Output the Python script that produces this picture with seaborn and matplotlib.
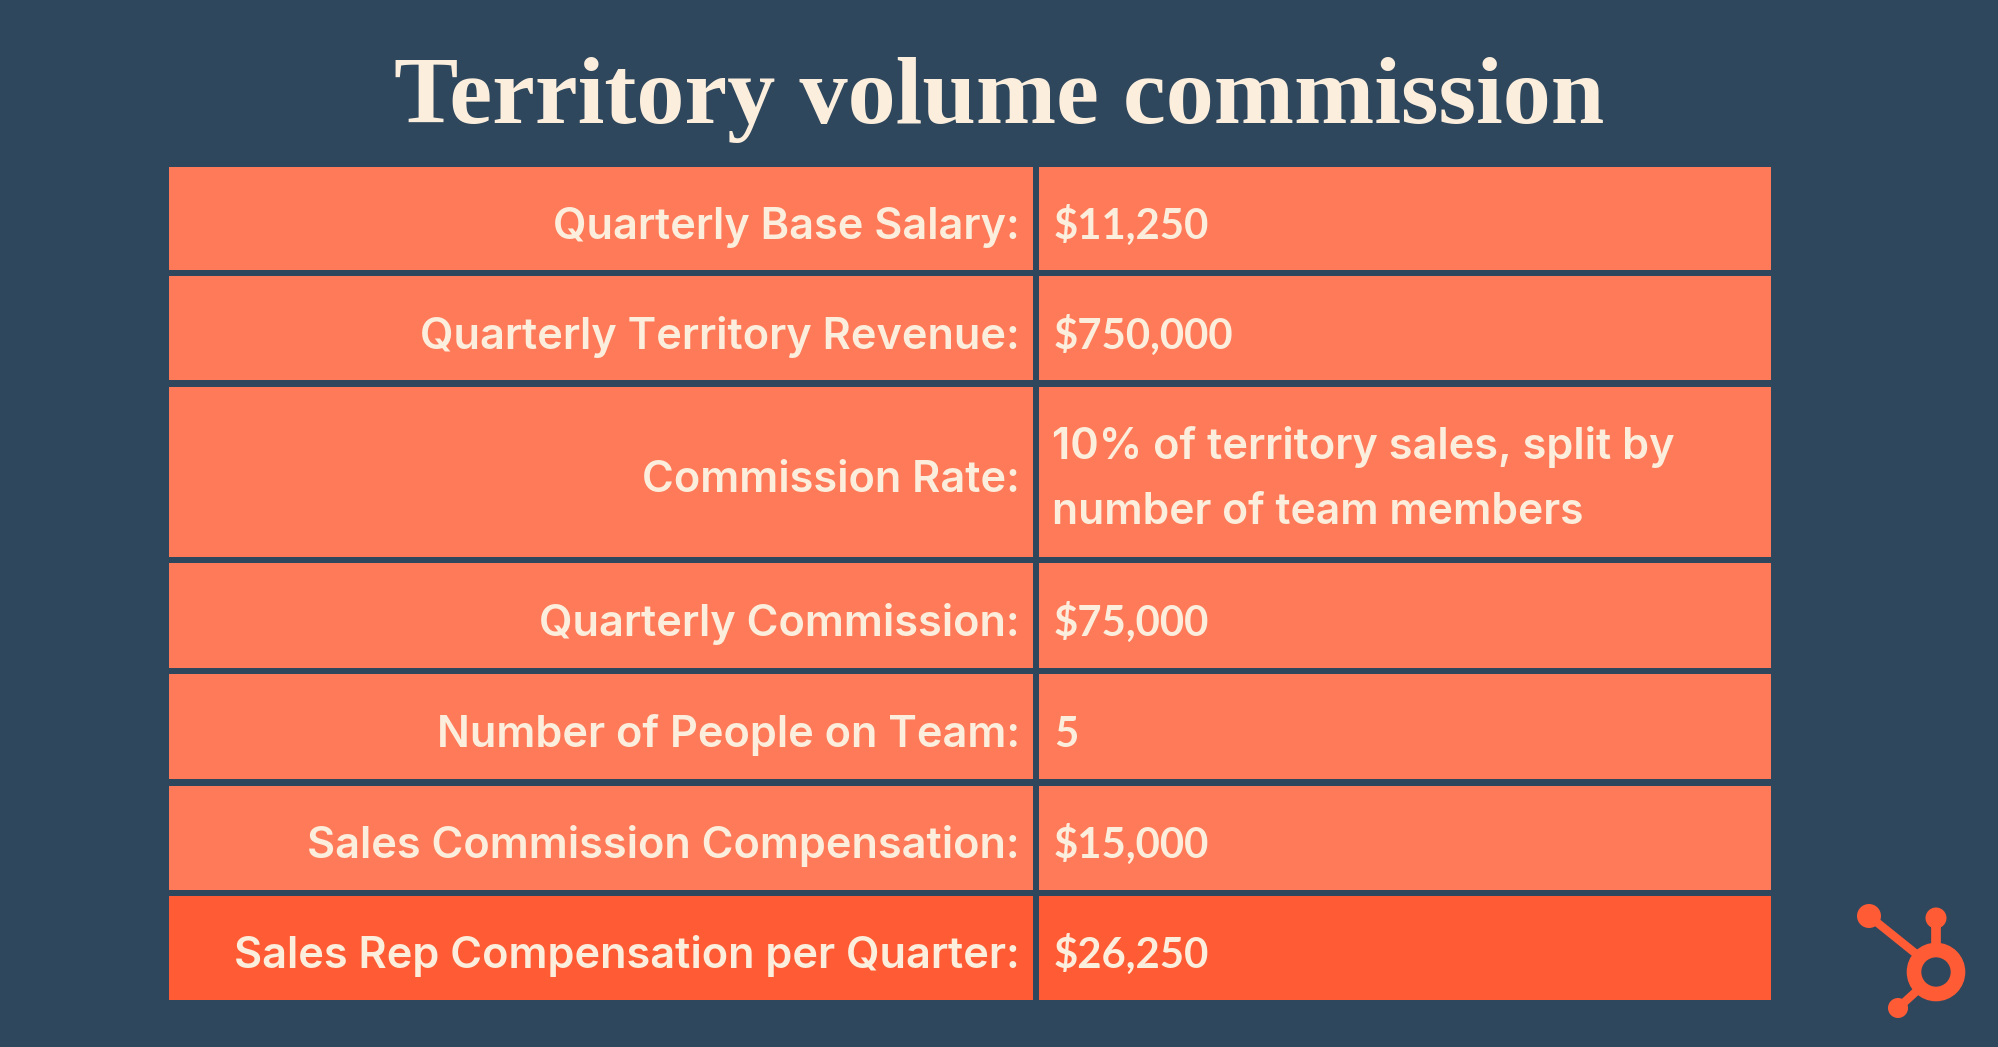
# -*- coding: utf-8 -*-

import pandas as pd
import matplotlib.pyplot as plt
import seaborn as sns
from matplotlib.patches import Circle

# table contents
titolo = 'Territory volume commission'
voci = ['Quarterly Base Salary:', 'Quarterly Territory Revenue:', 'Commission Rate:',
        'Quarterly Commission:', 'Number of People on Team:',
        'Sales Commission Compensation:', 'Sales Rep Compensation per Quarter:']
valori = ['$11,250', '$750,000', '10% of territory sales, split by\nnumber of team members',
          '$75,000', '5', '$15,000', '$26,250']
evidenziata = [False, False, False, False, False, False, True]

# colours
SFONDO = '#2E475D'
CELLA = '#FF7A59'
CELLA_FORTE = '#FF5C35'
CREMA = '#FCEEDD'

# layout in pixels of the 1999x1047 picture
X_SX, X_SX_FINE, X_DX, X_DX_FINE = 169, 1033, 1039.5, 1771
altezze = [103, 104, 170, 105, 105, 104, 104]
GAP = 6.3
Y0 = 167
CORPO = 31.2

sns.set_theme(style='white')
plt.rcParams['font.family'] = ['Inter', 'DejaVu Sans']

fig = plt.figure(figsize=(19.99, 10.47), dpi=100, facecolor=SFONDO)
ax = fig.add_axes([0, 0, 1, 1], facecolor=SFONDO)

df = pd.DataFrame({'voce': voci, 'valore': valori, 'forte': evidenziata})
df['riga'] = df.index.astype(str)
df['sx'] = X_SX_FINE - X_SX
df['dx'] = X_DX_FINE - X_DX
colori = {str(i): (CELLA_FORTE if f else CELLA) for i, f in enumerate(evidenziata)}

sns.barplot(data=df, y='riga', x='sx', hue='riga', palette=colori, left=X_SX,
            dodge=False, legend=False, saturation=1, ax=ax)
sns.barplot(data=df, y='riga', x='dx', hue='riga', palette=colori, left=X_DX,
            dodge=False, legend=False, saturation=1, ax=ax)

ax.set_xlim(0, 1999)
ax.set_ylim(1047, 0)
ax.set_axis_off()

# rows are not all the same height, move each bar to its own band
barre = [p for p in ax.patches if p.get_width() > 0]
n = len(voci)
centri = []
y = Y0
for h in altezze:
    centri.append(y + h / 2)
    y += h + GAP
for i, (c, h) in enumerate(zip(centri, altezze)):
    for colonna in range(2):
        b = barre[colonna * n + i]
        b.set_y(c - h / 2)
        b.set_height(h)
        b.set_linewidth(0)

# text
ax.text(999, 123, titolo, family='Liberation Serif', weight='bold', fontsize=69.3,
        color=CREMA, ha='center', va='baseline')
for c, voce, valore in zip(centri, voci, valori):
    ax.text(1020, c + 20.5, voce, fontsize=CORPO, weight='semibold', color=CREMA, ha='right', va='baseline')
    if '\n' in valore:
        righe = valore.split('\n')
        ax.text(1052, c - 12.5, righe[0], fontsize=CORPO, weight='semibold', color=CREMA, va='baseline')
        ax.text(1052, c + 52.5, righe[1], fontsize=30.7, weight='semibold', color=CREMA, va='baseline')
    else:
        # the digits are narrower in the original, Lato is closer here
        ax.text(1054, c + 20.5, valore, family='Lato', fontsize=30.2, weight='bold', color=CREMA, va='baseline')

# logo
ax.plot([1869, 1920], [916, 957], color=CELLA_FORTE, lw=6, solid_capstyle='butt')
ax.plot([1936, 1936], [918, 950], color=CELLA_FORTE, lw=7, solid_capstyle='butt')
ax.plot([1898, 1920], [1008, 988], color=CELLA_FORTE, lw=6, solid_capstyle='butt')
ax.add_patch(Circle((1936, 972), 22, fill=False, ec=CELLA_FORTE, lw=10.5))
ax.add_patch(Circle((1869, 916), 12, fc=CELLA_FORTE, ec='none'))
ax.add_patch(Circle((1936, 918), 10.5, fc=CELLA_FORTE, ec='none'))
ax.add_patch(Circle((1898, 1008), 10, fc=CELLA_FORTE, ec='none'))

fig.savefig('out.png', dpi=100, facecolor=SFONDO)
